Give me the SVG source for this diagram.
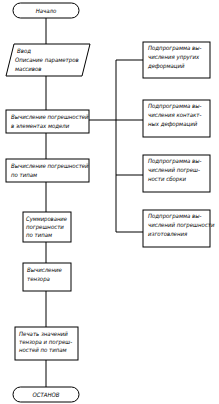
<svg xmlns="http://www.w3.org/2000/svg" width="219" height="404" viewBox="0 0 219 404">
<style>
.s{fill:#fff;stroke:#000;stroke-width:1}
.c{fill:none;stroke:#000;stroke-width:1}
text{font-family:"Liberation Sans Narrow","DejaVu Sans Condensed","Liberation Sans",sans-serif;font-style:italic;font-size:6px;fill:#000}
.m{text-anchor:middle}
</style>
<rect width="219" height="404" fill="#fff"/>
<g id="connectors">
<path class="c" d="M46 18V44M46 76V110M46 133V159M46 182V212M46 242V263M46 291V327M46 360V387"/>
<path class="c" d="M89 120H143M116 60V232M116 60H143M116 175H143M116 232H143"/>
</g>
<g id="start"><rect class="s" x="13" y="3" width="66" height="15" rx="7.5"/><text class="m" x="46" y="13">Начало</text></g>
<g id="input"><path class="s" d="M14 44H90L82 76H6Z"/><text x="17" y="53">Ввод</text><text x="15" y="62">Описание параметров</text><text x="15" y="71">массивов</text></g>
<g id="calc-elements"><rect class="s" x="6" y="110" width="83" height="23"/><text x="11" y="119">Вычисление погрешностей</text><text x="11" y="128">в элементах модели</text></g>
<g id="calc-types"><rect class="s" x="6" y="159" width="83" height="23"/><text x="11" y="168">Вычисление погрешностей</text><text x="11" y="177">по типам</text></g>
<g id="sum"><rect class="s" x="23" y="212" width="48" height="30"/><text x="26" y="221" textLength="41" lengthAdjust="spacingAndGlyphs">Суммирование</text><text x="26" y="229">погрешности</text><text x="26" y="237">по типам</text></g>
<g id="tensor"><rect class="s" x="23" y="263" width="48" height="28"/><text x="27" y="272">Вычисление</text><text x="27" y="281">тензора</text></g>
<g id="print"><rect class="s" x="15" y="327" width="63" height="33"/><text x="19" y="336">Печать значений</text><text x="19" y="344">тензора и погреш-</text><text x="19" y="352">ностей по типам</text></g>
<g id="stop"><rect class="s" x="13" y="387" width="66" height="15" rx="7.5"/><text class="m" x="46" y="397">ОСТАНОВ</text></g>
<g id="sub1"><rect class="s" x="143" y="42" width="67" height="36"/><text x="148" y="50">Подпрограмма вы-</text><text x="148" y="59">числения упругих</text><text x="148" y="68">деформаций</text></g>
<g id="sub2"><rect class="s" x="143" y="100" width="67" height="37"/><text x="148" y="108">Подпрограмма вы-</text><text x="148" y="117">числения контакт-</text><text x="148" y="126">ных деформаций</text></g>
<g id="sub3"><rect class="s" x="143" y="155" width="67" height="37"/><text x="148" y="163">Подпрограмма вы-</text><text x="148" y="172">числений погреш-</text><text x="148" y="181">ности сборки</text></g>
<g id="sub4"><rect class="s" x="143" y="210" width="67" height="37"/><text x="148" y="218">Подпрограмма вы-</text><text x="148" y="227">числений погрешности</text><text x="148" y="236">изготовления</text></g>
</svg>
